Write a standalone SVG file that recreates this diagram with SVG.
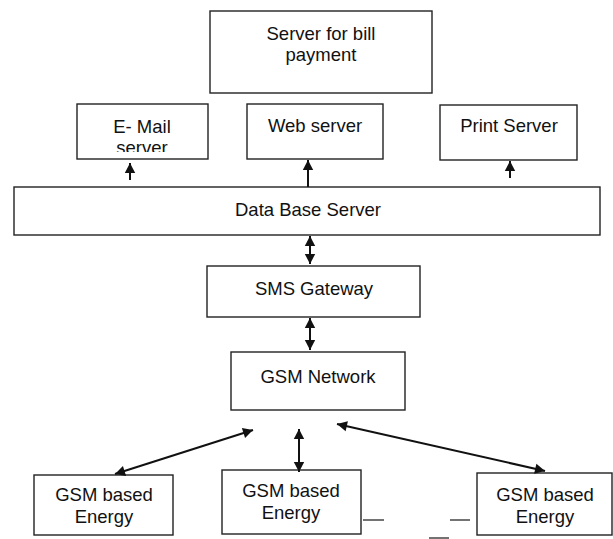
<svg xmlns="http://www.w3.org/2000/svg" width="613" height="539" viewBox="0 0 613 539">
<style>
.box{fill:#fff;stroke:#222;stroke-width:1.4}
.t{font-family:"Liberation Sans",Arial,sans-serif;font-size:18.5px;fill:#111;text-anchor:middle}
.c{stroke:#111;stroke-width:2;fill:none}
</style>
<defs>
<marker id="ah" markerUnits="userSpaceOnUse" markerWidth="12" markerHeight="12" viewBox="0 0 12 12" refX="10.5" refY="6" orient="auto-start-reverse">
<path d="M0.5,0.8 L10.5,6 L0.5,11.2 Z" fill="#111"/>
</marker>
<clipPath id="mailclip"><rect x="77" y="104" width="131" height="48"/></clipPath>
</defs>
<rect width="613" height="539" fill="#fff"/>
<g id="bill"><rect class="box" x="210" y="11" width="222" height="82"/><text class="t" x="321" y="40">Server for bill</text><text class="t" x="321" y="61">payment</text></g>
<g id="email"><rect class="box" x="77" y="104" width="131" height="55"/><g clip-path="url(#mailclip)"><text class="t" x="142" y="133">E- Mail</text><text class="t" x="142" y="154">server</text></g></g>
<g id="web"><rect class="box" x="247" y="104" width="136" height="55"/><text class="t" x="315" y="132">Web server</text></g>
<g id="print"><rect class="box" x="440" y="105" width="137" height="55"/><text class="t" x="509" y="132">Print Server</text></g>
<g id="db"><rect class="box" x="14" y="187" width="586" height="48"/><text class="t" x="308" y="216">Data Base Server</text></g>
<g id="sms"><rect class="box" x="207" y="266" width="213" height="51"/><text class="t" x="314" y="295">SMS Gateway</text></g>
<g id="gsmnet"><rect class="box" x="231" y="352" width="174" height="58"/><text class="t" x="318" y="383">GSM Network</text></g>
<g id="dev1"><rect class="box" x="34" y="475" width="139" height="60"/><text class="t" x="104" y="501">GSM based</text><text class="t" x="104" y="523">Energy</text></g>
<g id="dev2"><rect class="box" x="222" y="470" width="139" height="64"/><text class="t" x="291" y="497">GSM based</text><text class="t" x="291" y="519">Energy</text></g>
<g id="dev3"><rect class="box" x="477" y="473" width="135" height="62"/><text class="t" x="545" y="501">GSM based</text><text class="t" x="545" y="523">Energy</text></g>
<g id="connectors">
<line class="c" x1="130" y1="180" x2="130" y2="163" marker-end="url(#ah)"/>
<line class="c" x1="308" y1="187" x2="308" y2="160" marker-end="url(#ah)"/>
<line class="c" x1="510" y1="178" x2="510" y2="161" marker-end="url(#ah)"/>
<line class="c" x1="310" y1="236" x2="310" y2="264" marker-start="url(#ah)" marker-end="url(#ah)"/>
<line class="c" x1="310" y1="318" x2="310" y2="350" marker-start="url(#ah)" marker-end="url(#ah)"/>
<line class="c" x1="115" y1="474" x2="253" y2="430" marker-start="url(#ah)" marker-end="url(#ah)"/>
<line class="c" x1="299" y1="429" x2="299" y2="472" marker-start="url(#ah)" marker-end="url(#ah)"/>
<line class="c" x1="337" y1="424" x2="545" y2="471" marker-start="url(#ah)" marker-end="url(#ah)"/>
<g stroke="#444" stroke-width="1.5">
<line x1="363" y1="520" x2="384" y2="520"/>
<line x1="450" y1="520" x2="470" y2="520"/>
<line x1="429" y1="538" x2="449" y2="538"/>
</g>
</g>
</svg>
